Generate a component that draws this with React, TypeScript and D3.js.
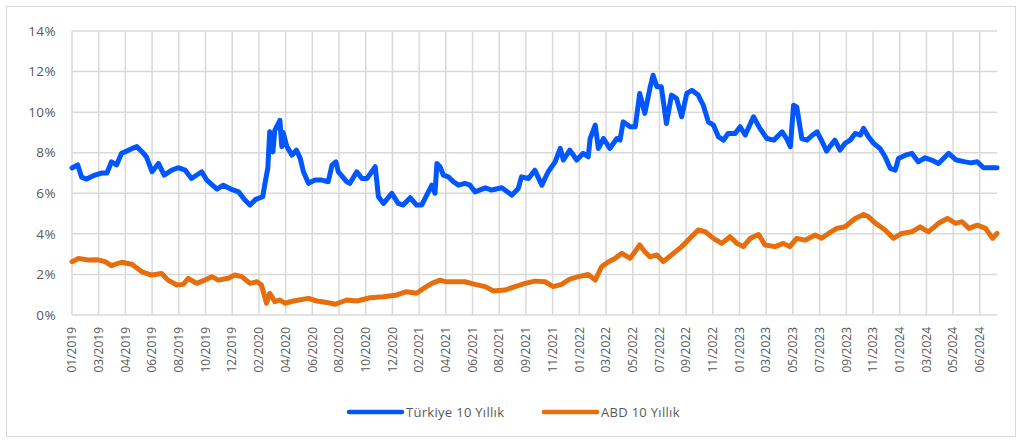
import * as d3 from 'd3';
import React from 'react';

// trading-day index, yield (%)
const turkiye: [number, number][] = [
  [0, 7.25], [9, 7.4], [15, 6.8], [23, 6.7], [36, 6.9], [47, 7.0], [55, 7.0], [62, 7.55],
  [70, 7.4], [78, 7.97], [86, 8.08], [94, 8.2], [102, 8.3], [110, 8.05], [117, 7.8],
  [126, 7.06], [136, 7.47], [145, 6.9], [157, 7.14], [167, 7.26], [178, 7.14], [188, 6.73],
  [204, 7.06], [212, 6.65], [228, 6.2], [238, 6.4], [251, 6.19], [262, 6.07], [272, 5.67],
  [280, 5.42], [289, 5.7], [300, 5.83], [304, 6.57], [308, 7.23], [311, 9.03], [316, 8.04],
  [319, 9.1], [327, 9.6], [330, 8.3], [332, 9.0], [338, 8.3], [346, 7.88], [353, 8.13],
  [359, 7.72], [364, 7.06], [372, 6.49], [382, 6.65], [393, 6.65], [403, 6.57], [409, 7.39],
  [415, 7.55], [419, 7.06], [432, 6.57], [437, 6.49], [448, 7.06], [456, 6.73], [464, 6.73],
  [477, 7.31], [482, 5.83], [490, 5.5], [503, 6.0], [513, 5.5], [521, 5.42], [532, 5.78],
  [542, 5.42], [550, 5.42], [558, 5.91], [566, 6.4], [571, 6.0], [574, 7.47], [579, 7.3],
  [584, 6.9], [592, 6.81], [600, 6.57], [608, 6.4], [618, 6.49], [626, 6.4], [634, 6.07],
  [650, 6.27], [660, 6.16], [676, 6.27], [692, 5.91], [702, 6.24], [707, 6.81], [718, 6.73],
  [728, 7.14], [739, 6.4], [749, 7.06], [760, 7.55], [768, 8.21], [773, 7.64], [783, 8.13],
  [794, 7.64], [804, 7.97], [812, 7.8], [815, 8.7], [823, 9.36], [828, 8.21], [836, 8.7],
  [846, 8.21], [857, 8.7], [862, 8.62], [867, 9.52], [878, 9.28], [886, 9.28], [893, 10.92],
  [901, 9.94], [909, 11.17], [914, 11.82], [920, 11.25], [927, 11.25], [935, 9.44],
  [943, 10.84], [951, 10.67], [959, 9.77], [967, 10.92], [975, 11.08], [985, 10.84],
  [993, 10.34], [1001, 9.52], [1009, 9.36], [1017, 8.78], [1025, 8.62], [1032, 8.95],
  [1043, 8.95], [1051, 9.28], [1059, 8.87], [1072, 9.77], [1082, 9.2], [1093, 8.7],
  [1104, 8.62], [1117, 9.03], [1124, 8.7], [1130, 8.3], [1135, 10.34], [1140, 10.26],
  [1148, 8.7], [1156, 8.62], [1164, 8.85], [1172, 9.03], [1180, 8.54], [1187, 8.08],
  [1192, 8.3], [1200, 8.62], [1208, 8.13], [1216, 8.46], [1224, 8.62], [1232, 8.95],
  [1240, 8.87], [1245, 9.2], [1253, 8.78], [1261, 8.46], [1271, 8.21], [1279, 7.8],
  [1287, 7.23], [1295, 7.14], [1300, 7.72], [1311, 7.88], [1321, 7.97], [1331, 7.55],
  [1342, 7.75], [1352, 7.64], [1363, 7.47], [1379, 7.97], [1391, 7.64], [1405, 7.55],
  [1414, 7.5], [1424, 7.55], [1434, 7.26], [1455, 7.26],
];

const abd: [number, number][] = [
  [0, 2.63], [10, 2.79], [26, 2.71], [41, 2.72], [52, 2.63], [62, 2.43], [78, 2.6], [94, 2.5],
  [110, 2.13], [125, 1.97], [141, 2.05], [151, 1.72], [165, 1.48], [175, 1.51], [183, 1.81],
  [196, 1.56], [209, 1.72], [220, 1.89], [230, 1.72], [246, 1.81], [256, 1.97], [267, 1.89],
  [280, 1.56], [291, 1.64], [298, 1.48], [306, 0.58], [311, 1.07], [319, 0.66], [327, 0.74],
  [335, 0.58], [348, 0.69], [372, 0.82], [385, 0.69], [401, 0.62], [414, 0.53], [432, 0.74],
  [448, 0.69], [469, 0.85], [490, 0.9], [511, 0.99], [526, 1.15], [542, 1.07], [553, 1.31],
  [566, 1.56], [579, 1.72], [587, 1.64], [602, 1.64], [618, 1.64], [634, 1.51], [650, 1.4],
  [663, 1.18], [681, 1.23], [697, 1.4], [713, 1.56], [728, 1.67], [744, 1.64], [757, 1.4],
  [770, 1.51], [783, 1.77], [797, 1.89], [812, 2.0], [823, 1.72], [833, 2.38], [844, 2.63],
  [854, 2.79], [865, 3.04], [878, 2.79], [893, 3.45], [901, 3.12], [909, 2.87], [920, 2.96],
  [930, 2.63], [943, 2.96], [959, 3.37], [972, 3.78], [985, 4.19], [996, 4.11], [1009, 3.78],
  [1022, 3.53], [1035, 3.86], [1046, 3.53], [1056, 3.37], [1067, 3.78], [1080, 3.97],
  [1090, 3.45], [1106, 3.37], [1119, 3.53], [1129, 3.37], [1140, 3.78], [1153, 3.69],
  [1169, 3.94], [1179, 3.78], [1190, 4.02], [1203, 4.27], [1216, 4.35], [1232, 4.76],
  [1245, 4.96], [1253, 4.84], [1264, 4.52], [1279, 4.19], [1292, 3.78], [1305, 4.02],
  [1321, 4.1], [1334, 4.35], [1347, 4.1], [1363, 4.52], [1377, 4.76], [1390, 4.52],
  [1400, 4.6], [1411, 4.27], [1424, 4.43], [1437, 4.27], [1448, 3.78], [1455, 4.02],
];

const tickLabels = [
  '01/2019', '03/2019', '04/2019', '06/2019', '08/2019', '10/2019', '12/2019',
  '02/2020', '04/2020', '06/2020', '08/2020', '10/2020', '12/2020',
  '02/2021', '04/2021', '06/2021', '08/2021', '09/2021', '11/2021',
  '01/2022', '03/2022', '05/2022', '07/2022', '09/2022', '11/2022',
  '01/2023', '03/2023', '05/2023', '07/2023', '09/2023', '11/2023',
  '01/2024', '03/2024', '05/2024', '06/2024',
];
const tickStep = 42;
const lastIndex = 1455;
const yTicks = [0, 2, 4, 6, 8, 10, 12, 14];

const series = [
  { name: 'Türkiye 10 Yıllık', data: turkiye, color: '#0057ff' },
  { name: 'ABD 10 Yıllık', data: abd, color: '#e66e0c' },
];

const W = 1022;
const H = 441;
const plot = { left: 72, right: 997, top: 31, bottom: 315 };
const font = '"Open Sans", "Noto Sans", sans-serif';
const textColor = '#595959';
const gridColor = '#d9d9d9';

export default function App() {
  const x = d3.scaleLinear().domain([0, lastIndex]).range([plot.left, plot.right]);
  const y = d3.scaleLinear().domain([0, 14]).range([plot.bottom, plot.top]);

  const line = d3
    .line<[number, number]>()
    .x((d) => x(d[0]))
    .y((d) => y(d[1]));

  return (
    <svg
      width={W}
      height={H}
      style={{ position: 'absolute', left: 0, top: 0, background: '#fff' }}
      fontFamily={font}
    >
      <rect x={6.5} y={6.5} width={W - 13} height={H - 11} fill="#fff" stroke="#d9d9d9" strokeWidth={1} />

      {/* horizontal grid */}
      {yTicks.map((t) => (
        <line key={'h' + t} x1={plot.left} x2={plot.right} y1={y(t)} y2={y(t)} stroke={gridColor} strokeWidth={1.5} />
      ))}
      {/* vertical grid at category labels */}
      {tickLabels.map((lab, i) => (
        <line
          key={'v' + lab}
          x1={x(i * tickStep)}
          x2={x(i * tickStep)}
          y1={plot.top}
          y2={plot.bottom}
          stroke={gridColor}
          strokeWidth={1.5}
        />
      ))}

      {yTicks.map((t) => (
        <text key={'yl' + t} x={56} y={y(t)} dy="0.35em" textAnchor="end" fontSize={13.5} fill={textColor} letterSpacing={0.4}>
          {t}%
        </text>
      ))}

      {tickLabels.map((lab, i) => (
        <text
          key={'xl' + lab}
          transform={`translate(${x(i * tickStep)},${plot.bottom + 12}) rotate(-90)`}
          dy="0.35em"
          textAnchor="end"
          fontSize={12}
          fill={textColor}
        >
          {lab}
        </text>
      ))}

      {series.map((s) => (
        <path
          key={s.name}
          d={line(s.data) ?? ''}
          fill="none"
          stroke={s.color}
          strokeWidth={5}
          strokeLinejoin="round"
          strokeLinecap="round"
        />
      ))}

      {/* legend */}
      {series.map((s, i) => {
        const lx = 349 + i * 195;
        return (
          <g key={'lg' + s.name}>
            <line x1={lx} x2={lx + 53} y1={412} y2={412} stroke={s.color} strokeWidth={4.5} strokeLinecap="round" />
            <text x={lx + 57} y={412} dy="0.35em" fontSize={13} fill={textColor} letterSpacing={0.3}>
              {s.name}
            </text>
          </g>
        );
      })}
    </svg>
  );
}
